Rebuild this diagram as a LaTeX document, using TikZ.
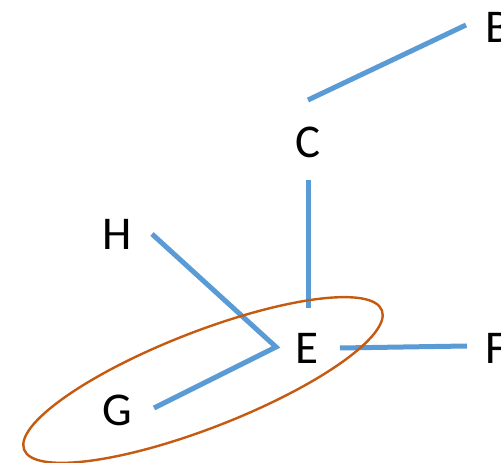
\documentclass[tikz,border=0pt]{standalone}
\usepackage{fontspec}
\setmainfont{Carlito}
\usetikzlibrary{calc}

\definecolor{lijnblauw}{HTML}{5B9BD5}
\definecolor{ringoranje}{HTML}{C55A11}

\begin{document}
\begin{tikzpicture}[x=1pt, y=1pt,
    letter/.style={inner sep=0pt, font=\fontsize{47}{56}\selectfont},
    tak/.style={lijnblauw, line width=5pt},
    ring/.style={ringoranje, line width=2.4pt}]
    \useasboundingbox (0,0) rectangle (501,463);
    % Letters
    \node[letter] (B) at (498,436) {B};
    \node[letter] (C) at (308,321) {C};
    \node[letter] (H) at (117,229) {H};
    \node[letter] (E) at (307,115) {E};
    \node[letter] (F) at (496,115) {F};
    \node[letter] (G) at (117,53) {G};
    % Takken
    \draw[tak] ($(C)+(0,42)$) -- ($(B)+(-32,2)$);
    \draw[tak] ($(C)+(0,-38)$) -- ($(E)+(1,40)$);
    \draw[tak] ($(H)+(35,0)$) -- ($(E)+(-31,1)$) -- ($(G)+(37,2)$);
    \draw[tak] ($(E)+(33,0)$) -- ($(F)+(-29,2)$);
    % Ovaal rond G en E
    \draw[ring, rotate around={21.3:(203,83)}] (203,83) ellipse (192pt and 48pt);
\end{tikzpicture}
\end{document}
